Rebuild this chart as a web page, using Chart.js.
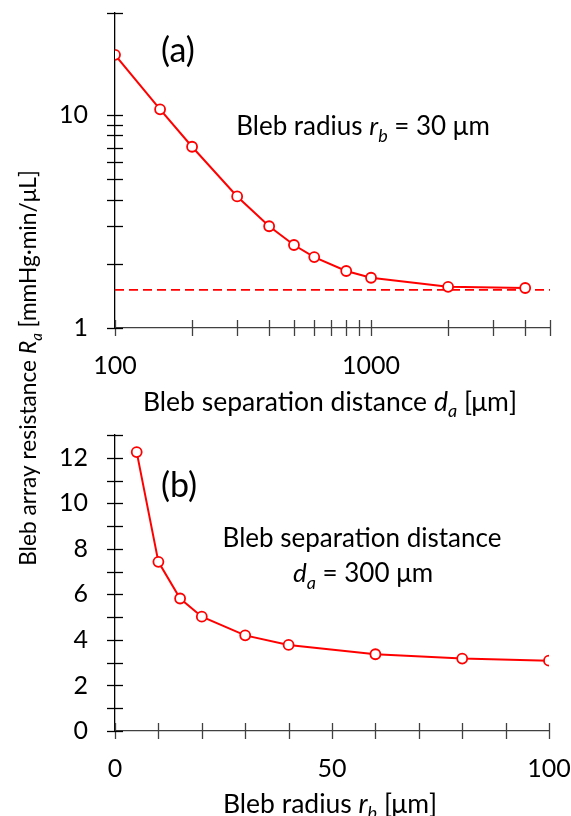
<!DOCTYPE html>
<html>
<head>
<meta charset="utf-8">
<script src="https://cdn.jsdelivr.net/npm/chart.js@4/dist/chart.umd.min.js"></script>
<style>
  html, body { margin: 0; padding: 0; background: #fff; }
  #wrap { position: relative; width: 571px; height: 816px; }
  #chartA { position: absolute; left: 0; top: 0; }
  #chartB { position: absolute; left: 0; top: 410px; }
</style>
</head>
<body>
<div id="wrap">
  <canvas id="chartA" width="571" height="816"></canvas>
  <canvas id="chartB" width="571" height="406"></canvas>
</div>
<script>
// panel (a): resistance vs separation distance, r_b = 30 um
const sepDistance = [100, 150, 200, 300, 400, 500, 600, 800, 1000, 2000, 4000];
const resistanceA = [19.1, 10.6, 7.08, 4.14, 3.0, 2.45, 2.15, 1.85, 1.72, 1.56, 1.54];
const asymptoteA = 1.51;
const xTicksA = [100, 200, 300, 400, 500, 600, 700, 800, 900, 1000, 2000, 3000, 4000, 5000];
const xLabelsA = [100, 1000];
const yTicksA = [1, 2, 3, 4, 5, 6, 7, 8, 9, 10, 30];
const yLabelsA = [1, 10];

// panel (b): resistance vs bleb radius, d_a = 300 um
const blebRadius = [5, 10, 15, 20, 30, 40, 60, 80, 100];
const resistanceB = [12.25, 7.43, 5.82, 5.02, 4.2, 3.78, 3.37, 3.18, 3.09];
const xTicksB = [0, 10, 20, 30, 40, 50, 60, 70, 80, 90, 100];
const xLabelsB = [0, 50, 100];
const yTicksB = [0, 1, 2, 3, 4, 5, 6, 7, 8, 9, 10, 11, 12, 13];
const yLabelsB = [0, 2, 4, 6, 8, 10, 12];

const FONT = 'Lato';
const RED = '#ff0000';
Chart.defaults.font.family = FONT;
Chart.defaults.color = '#000';

// text with italic / subscript pieces, centred on (cx, cy)
function drawRich(ctx, parts, cx, cy, size, angle) {
  const fontOf = p => (p.it ? 'italic ' : '') + (p.sub ? Math.round(size * 0.68) : size) + 'px ' + FONT;
  const widths = parts.map(p => { ctx.font = fontOf(p); return ctx.measureText(p.t).width; });
  const total = widths.reduce((a, b) => a + b, 0);
  ctx.save();
  ctx.translate(cx, cy);
  if (angle) ctx.rotate(angle);
  ctx.fillStyle = '#000';
  ctx.textAlign = 'left';
  ctx.textBaseline = 'alphabetic';
  let x = -total / 2;
  parts.forEach((p, i) => {
    ctx.font = fontOf(p);
    ctx.fillText(p.t, x, size * 0.36 + (p.sub ? size * 0.25 : 0));
    x += widths[i];
  });
  ctx.restore();
}

// tick marks that cross the axis line, like the original
function crossTicks(xTicks, yTicks, xColor, yColor) {
  return {
    id: 'crossTicks',
    afterDraw(chart) {
      const { ctx, chartArea: a, scales } = chart;
      ctx.save();
      ctx.lineWidth = 1.3;
      ctx.strokeStyle = xColor;
      xTicks.forEach(v => {
        const px = Math.round(scales.x.getPixelForValue(v)) + 0.5;
        ctx.beginPath(); ctx.moveTo(px, a.bottom - 8); ctx.lineTo(px, a.bottom + 8); ctx.stroke();
      });
      ctx.strokeStyle = yColor;
      yTicks.forEach(v => {
        const py = Math.round(scales.y.getPixelForValue(v)) + 0.5;
        ctx.beginPath(); ctx.moveTo(a.left - 8, py); ctx.lineTo(a.left + 8, py); ctx.stroke();
      });
      ctx.restore();
    }
  };
}

function textPlugin(items) {
  return {
    id: 'texts',
    afterDraw(chart) {
      items.forEach(it => drawRich(chart.ctx, it.parts, it.x, it.y, it.size, it.angle));
    }
  };
}

// fixed axis size, and no extra room claimed for the end labels
function fixSize(dim, value) {
  return s => {
    s[dim] = value;
    s.paddingLeft = 0; s.paddingRight = 0; s.paddingTop = 0; s.paddingBottom = 0;
  };
}

function axis(type, min, max, tickList, labelList, pad, opts) {
  return Object.assign({
    type: type,
    min: min,
    max: max,
    afterBuildTicks: s => { s.ticks = tickList.map(v => ({ value: v })); },
    ticks: {
      autoSkip: false,
      maxRotation: 0,
      padding: pad,
      font: { size: 25 },
      color: '#000',
      callback: v => labelList.includes(v) ? String(v) : ''
    },
    grid: { display: false, drawTicks: false },
    border: { display: true, width: 1.3 }
  }, opts);
}

const baseOptions = {
  responsive: false,
  animation: false,
  events: [],
  plugins: { legend: { display: false }, tooltip: { enabled: false } }
};

const lineStyle = {
  borderColor: RED,
  borderWidth: 2,
  pointRadius: 5,
  pointBorderWidth: 1.8,
  pointBorderColor: RED,
  pointBackgroundColor: '#fff',
  tension: 0,
  fill: false
};

new Chart(document.getElementById('chartA'), {
  type: 'line',
  data: {
    datasets: [
      Object.assign({ data: sepDistance.map((d, i) => ({ x: d, y: resistanceA[i] })) }, lineStyle),
      {
        data: [{ x: 100, y: asymptoteA }, { x: 5000, y: asymptoteA }],
        borderColor: RED,
        borderWidth: 1.8,
        borderDash: [9, 5],
        pointRadius: 0,
        fill: false
      }
    ]
  },
  options: Object.assign({}, baseOptions, {
    layout: { padding: { left: 0, right: 21, top: 13, bottom: 406 } },
    scales: {
      x: axis('logarithmic', 100, 5000, xTicksA, xLabelsA, 23, {
        afterFit: fixSize('height', 82),
        border: { display: true, width: 1.3, color: '#404040' }
      }),
      y: axis('logarithmic', 1, 30, yTicksA, yLabelsA, 27, {
        afterFit: fixSize('width', 115),
        border: { display: true, width: 1.3, color: '#000' }
      })
    }
  }),
  plugins: [
    crossTicks(xTicksA, yTicksA, '#404040', '#000'),
    textPlugin([
      { parts: [{ t: '(a)' }], x: 178, y: 50, size: 34 },
      { parts: [{ t: 'Bleb radius ' }, { t: 'r', it: true }, { t: 'b', it: true, sub: true }, { t: ' = 30 \u03bcm' }], x: 363, y: 126, size: 26 },
      { parts: [{ t: 'Bleb separation distance ' }, { t: 'd', it: true }, { t: 'a', it: true, sub: true }, { t: ' [\u03bcm]' }], x: 330, y: 401, size: 26.5 },
      { parts: [{ t: 'Bleb array resistance ' }, { t: 'R', it: true }, { t: 'a', it: true, sub: true }, { t: ' [mmHg\u00b7min/\u03bcL]' }], x: 28, y: 368, size: 22.7, angle: -Math.PI / 2 }
    ])
  ]
});

new Chart(document.getElementById('chartB'), {
  type: 'line',
  data: {
    datasets: [
      Object.assign({ data: blebRadius.map((r, i) => ({ x: r, y: resistanceB[i] })) }, lineStyle)
    ]
  },
  options: Object.assign({}, baseOptions, {
    layout: { padding: { left: 0, right: 22, top: 25, bottom: 0 } },
    scales: {
      x: axis('linear', 0, 100, xTicksB, xLabelsB, 23, {
        afterFit: fixSize('height', 85),
        border: { display: true, width: 1.3, color: '#404040' }
      }),
      y: axis('linear', 0, 13, yTicksB, yLabelsB, 27, {
        afterFit: fixSize('width', 115),
        border: { display: true, width: 1.3, color: '#000' }
      })
    }
  }),
  plugins: [
    crossTicks(xTicksB, yTicksB, '#404040', '#000'),
    textPlugin([
      { parts: [{ t: '(b)' }], x: 179, y: 75, size: 34 },
      { parts: [{ t: 'Bleb separation distance' }], x: 362, y: 128, size: 26 },
      { parts: [{ t: 'd', it: true }, { t: 'a', it: true, sub: true }, { t: ' = 300 \u03bcm' }], x: 363, y: 163, size: 26 },
      { parts: [{ t: 'Bleb radius ' }, { t: 'r', it: true }, { t: 'b', it: true, sub: true }, { t: ' [\u03bcm]' }], x: 330, y: 393, size: 26.5 }
    ])
  ]
});
</script>
</body>
</html>
